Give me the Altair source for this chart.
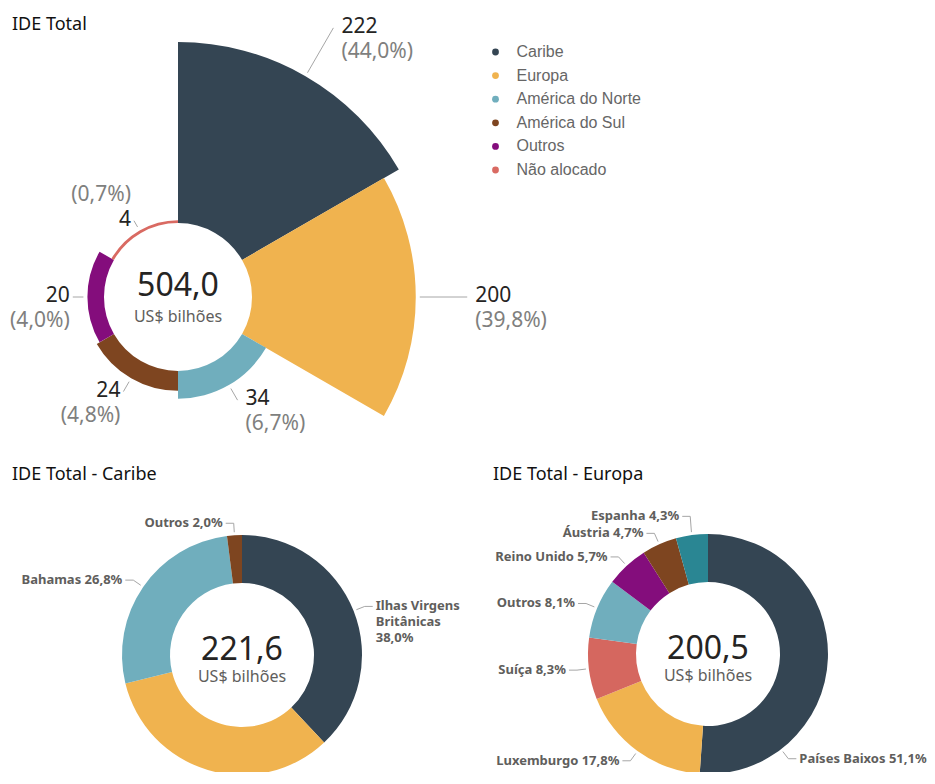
import math
import textwrap
import altair as alt
import pandas as pd

# ---------------- data ----------------
regions = ["Caribe", "Europa", "América do Norte", "América do Sul", "Outros", "Não alocado"]
region_values = [221.6, 200.5, 33.9, 24.2, 20.3, 3.5]
region_colors = ["#344553", "#F0B34F", "#70AEBD", "#7E4520", "#840D7C", "#D96A62"]

caribe_names = ["Ilhas Virgens Britânicas", "Ilhas Cayman", "Bahamas", "Outros"]
caribe_pct = [38.0, 33.2, 26.8, 2.0]
caribe_colors = ["#344553", "#F0B34F", "#70AEBD", "#7E4520"]

europa_names = ["Países Baixos", "Luxemburgo", "Suíça", "Outros", "Reino Unido", "Áustria", "Espanha"]
europa_pct = [51.1, 17.8, 8.3, 8.1, 5.7, 4.7, 4.3]
europa_colors = ["#344553", "#F0B34F", "#D5675F", "#70AEBD", "#840D7C", "#7E4520", "#2A8693"]

titles = ["IDE Total", "IDE Total - Caribe", "IDE Total - Europa"]
unit_label = "US$ bilhões"

# ---------------- layout / style ----------------
W, H = 919, 764
FONT = "Noto Sans"
DARK = "#252423"
GREY = "#807F7E"
LABEL = "#605E5C"
LEADER = "#A6A6A6"

ROSE_C = (170, 289)
ROSE_IN, ROSE_OUT = 74, 255
CAR_C = (234, 647)
EUR_C = (700, 646)
D_IN, D_OUT = 72, 120


def br(x, d=1):
    return f"{x:.{d}f}".replace(".", ",")


def polar(c, r, a):
    t = math.radians(a)
    return c[0] + r * math.sin(t), c[1] - r * math.cos(t)


total = sum(region_values)
max_v = max(region_values)
n = len(regions)

# ---------------- rose (top) ----------------
rose_df = pd.DataFrame({
    "name": regions,
    "value": region_values,
    "t0": list(range(n)),
    "t1": [i + 1 for i in range(n)],
})

rose = alt.Chart(rose_df).mark_arc(innerRadius=ROSE_IN).encode(
    x=alt.value(ROSE_C[0]),
    y=alt.value(ROSE_C[1]),
    theta=alt.Theta("t0:Q", stack=None, scale=alt.Scale(domain=[0, n], range=[0, 2 * math.pi])),
    theta2="t1:Q",
    radius=alt.Radius("value:Q", stack=None,
                      scale=alt.Scale(type="linear", domain=[0, max_v],
                                      range=[ROSE_IN, ROSE_OUT], zero=True)),
    color=alt.Color("name:N", scale=alt.Scale(domain=regions, range=region_colors),
                    legend=alt.Legend(orient="none", legendX=479.5, legendY=36, title=None,
                                      symbolType="circle", symbolSize=46, symbolStrokeWidth=0,
                                      labelFont="Liberation Sans", labelFontSize=16,
                                      labelColor="#666666", labelOffset=13, rowPadding=7.6,
                                      padding=0)),
)

rose_seg, rose_val, rose_pct = [], [], []
for i, (name, v) in enumerate(zip(regions, region_values)):
    a = (i + 0.5) * 360 / n
    ro = ROSE_IN + v / max_v * (ROSE_OUT - ROSE_IN)
    sx, sy = polar(ROSE_C, ro + 4, a)
    ex, ey = polar(ROSE_C, 1.25 * ro - 8, a)
    side = 1 if math.sin(math.radians(a)) > 0 else -1
    rose_seg.append({"x": sx, "y": sy, "x2": ex, "y2": ey})
    tx = ex + (8 if side > 0 else -3)
    vy = ey - 1
    py = vy - 25 if 270 < a < 360 else vy + 25
    al = "left" if side > 0 else "right"
    rose_val.append({"x": tx, "y": vy, "t": f"{v:.0f}", "al": al})
    rose_pct.append({"x": tx, "y": py, "t": f"({br(v / total * 100)}%)", "al": al})

rose_seg_df = pd.DataFrame(rose_seg)
rose_val_df = pd.DataFrame(rose_val)
rose_pct_df = pd.DataFrame(rose_pct)


def seg_layer(df):
    return alt.Chart(df).mark_rule(color=LEADER, strokeWidth=1).encode(
        x=alt.X("x:Q", scale=None), y=alt.Y("y:Q", scale=None),
        x2="x2:Q", y2="y2:Q")


def text_layer(df, size, color, weight="normal", line_break=None):
    layers = []
    for al in ["left", "right"]:
        sub = df[df["al"] == al]
        if len(sub) == 0:
            continue
        kw = dict(align=al, baseline="middle", font=FONT, fontSize=size, color=color,
                  fontWeight=weight)
        if line_break:
            kw["lineBreak"] = line_break
            kw["lineHeight"] = 16
        layers.append(alt.Chart(sub).mark_text(**kw).encode(
            x=alt.X("x:Q", scale=None), y=alt.Y("y:Q", scale=None), text="t:N"))
    return layers


def center_text(df, size, color):
    return alt.Chart(df).mark_text(align="center", baseline="middle", font=FONT,
                                   fontSize=size, color=color).encode(
        x=alt.X("x:Q", scale=None), y=alt.Y("y:Q", scale=None), text="t:N")


# ---------------- donuts ----------------
def donut(names, pcts, colors, center, xmin, xmax, total_value):
    df = pd.DataFrame({"name": names, "pct": pcts, "color": colors,
                       "idx": list(range(len(names)))})
    arcs = alt.Chart(df).mark_arc(innerRadius=D_IN, outerRadius=D_OUT).encode(
        x=alt.value(center[0]), y=alt.value(center[1]),
        theta=alt.Theta("pct:Q", stack=True),
        color=alt.Color("color:N", scale=None),
        order=alt.Order("idx:Q"),
    )
    rows = []
    cum = 0.0
    tot = sum(pcts)
    for name, p in zip(names, pcts):
        a0 = cum / tot * 360
        cum += p
        a1 = cum / tot * 360
        text = f"{name} {br(p)}%"
        lines = textwrap.wrap(text, 14) if len(text) > 20 else [text]
        width = max(len(l) for l in lines) * 6.7
        mid = (a0 + a1) / 2
        extra = []
        t = a0 + 1
        while t <= a1 - 1:
            extra.append(t)
            t += 0.5
        cands = [mid] + sorted(extra, key=lambda u: abs(u - mid))
        chosen = mid
        for t in cands:
            s = 1 if math.sin(math.radians(t)) >= 0 else -1
            x2, _ = polar(center, D_OUT + 12, t)
            tx = x2 + s * 11
            lft = tx if s > 0 else tx - width
            rgt = tx + width if s > 0 else tx
            if lft >= xmin and rgt <= xmax:
                chosen = t
                break
        s = 1 if math.sin(math.radians(chosen)) >= 0 else -1
        p1 = polar(center, D_OUT + 3, chosen)
        p2 = polar(center, D_OUT + 12, chosen)
        rows.append({"s": s, "p1": p1, "x": p2[0], "y": p2[1], "h": 16 * len(lines),
                     "t": "\n".join(lines)})
    # avoid overlaps: push labels upward from the bottom
    for s in (1, -1):
        side = sorted([r for r in rows if r["s"] == s], key=lambda r: -r["y"])
        prev = None
        for r in side:
            if prev is not None:
                lim = prev["y"] - (prev["h"] / 2 + r["h"] / 2 + 1)
                if r["y"] > lim:
                    r["y"] = lim
            prev = r
    segs, labs = [], []
    for r in rows:
        segs.append({"x": r["p1"][0], "y": r["p1"][1], "x2": r["x"], "y2": r["y"]})
        segs.append({"x": r["x"], "y": r["y"], "x2": r["x"] + 8 * r["s"], "y2": r["y"]})
        labs.append({"x": r["x"] + 11 * r["s"], "y": r["y"], "t": r["t"],
                     "al": "left" if r["s"] > 0 else "right"})
    seg_df = pd.DataFrame(segs)
    lab_df = pd.DataFrame(labs)
    center_df = pd.DataFrame([{"x": center[0], "y": center[1] - 5, "t": br(total_value)}])
    unit_df = pd.DataFrame([{"x": center[0], "y": center[1] + 22, "t": unit_label}])
    return [arcs, seg_layer(seg_df)] + text_layer(lab_df, 13, LABEL, "bold", "\n") + \
        [center_text(center_df, 32, DARK), center_text(unit_df, 16, LABEL)]


rose_center = center_text(pd.DataFrame([{"x": ROSE_C[0], "y": ROSE_C[1] - 11, "t": br(total)}]), 32, DARK)
rose_unit = center_text(pd.DataFrame([{"x": ROSE_C[0], "y": ROSE_C[1] + 20, "t": unit_label}]), 16, LABEL)

title_df = pd.DataFrame({"t": titles, "x": [4, 4, 485], "y": [17, 467, 467]})
title_layer = alt.Chart(title_df).mark_text(align="left", baseline="middle", font=FONT,
                                            fontSize=18, color="#111111").encode(
    x=alt.X("x:Q", scale=None), y=alt.Y("y:Q", scale=None), text="t:N")

caribe_total = region_values[0]
europa_total = region_values[1]

layers = [rose, seg_layer(rose_seg_df)] + text_layer(rose_val_df, 21, DARK) + \
    text_layer(rose_pct_df, 21, GREY) + [rose_center, rose_unit] + \
    donut(caribe_names, caribe_pct, caribe_colors, CAR_C, 0, 462, caribe_total) + \
    donut(europa_names, europa_pct, europa_colors, EUR_C, 470, W, europa_total) + \
    [title_layer]

chart = alt.layer(*layers).resolve_scale(
    theta="independent", color="independent", radius="independent"
).properties(
    width=W, height=H, padding=0,
    autosize=alt.AutoSizeParams(type="none"),
    background="white",
).configure_view(stroke=None)

chart.save("out.html", embed_options={"renderer": "svg", "actions": False})
